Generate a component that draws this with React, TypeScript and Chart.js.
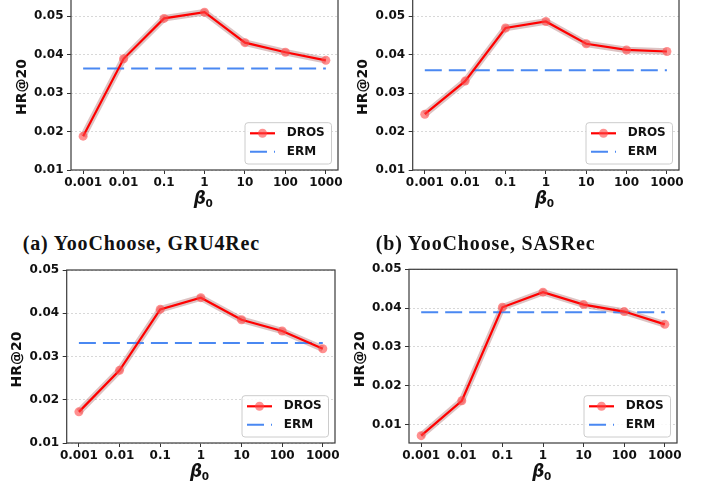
import React, { useEffect, useRef } from "react";
import { Chart, registerables } from "chart.js";
Chart.register(...registerables);

// ---------- data ----------
const xLabels = ["0.001", "0.01", "0.1", "1", "10", "100", "1000"];
const yTicks = [0.01, 0.02, 0.03, 0.04, 0.05];
const seriesNames = ["DROS", "ERM"];
const yTitle = "HR@20";

const drosA = [0.0188, 0.0389, 0.0494, 0.051, 0.0431, 0.0406, 0.0385];
const ermA = 0.0364;
const drosB = [0.0245, 0.0331, 0.0469, 0.0486, 0.0428, 0.0412, 0.0408];
const ermB = 0.0359;
const drosC = [0.0172, 0.0268, 0.0409, 0.0436, 0.0385, 0.0359, 0.0318];
const ermC = 0.0331;
const drosD = [0.0071, 0.0161, 0.0402, 0.0441, 0.0409, 0.0391, 0.0358];
const ermD = 0.0389;

const captions = ["(a) YooChoose, GRU4Rec", "(b) YooChoose, SASRec"];

// ---------- layout ----------
type Panel = {
  dros: number[];
  erm: number;
  yMin: number;
  yMax: number;
  l: number;
  r: number;
  t: number;
  b: number;
};

const panels: Panel[] = [
  { dros: drosA, erm: ermA, yMin: 0.01, yMax: 0.0547, l: 71, r: 338, t: -2, b: 170 },
  { dros: drosB, erm: ermB, yMin: 0.01, yMax: 0.0547, l: 412.7, r: 679, t: -2, b: 170 },
  { dros: drosC, erm: ermC, yMin: 0.01, yMax: 0.05, l: 66.7, r: 335, t: 270, b: 443.3 },
  { dros: drosD, erm: ermD, yMin: 0.0052, yMax: 0.05, l: 409, r: 676.7, t: 269.3, b: 442.7 },
];

const RED = "#ff0000";
const MARKER = "rgba(255,70,70,0.6)";
const BAND = "rgba(170,105,105,0.4)";
const BLUE = "#4a88f2";
const DASH = [17, 7];
const TICK_FONT = { family: "DejaVu Sans", weight: "bold" as const, size: 12 };

function PanelChart({ p }: { p: Panel }) {
  const ref = useRef<HTMLCanvasElement | null>(null);
  const cx = Math.round(p.l - 70);
  const cy = Math.round(p.t - 14);
  const yW = p.l - cx;
  const padTop = p.t - cy;
  const padRight = 28;
  const xH = 44;
  const cw = Math.round(yW + (p.r - p.l) + padRight);
  const ch = Math.round(padTop + (p.b - p.t) + xH);

  useEffect(() => {
    if (!ref.current) return;
    const decor = {
      id: "decor",
      afterDraw(chart: any) {
        const { ctx } = chart;
        const { left, right, top, bottom } = chart.chartArea;
        ctx.save();
        // frame
        ctx.strokeStyle = "#3a3a3a";
        ctx.lineWidth = 1.2;
        ctx.setLineDash([]);
        ctx.strokeRect(left, top, right - left, bottom - top);
        ctx.restore();

        // y title
        ctx.save();
        ctx.translate(left - 49, (top + bottom) / 2 + 3);
        ctx.rotate(-Math.PI / 2);
        ctx.font = "bold 14px 'DejaVu Sans'";
        ctx.fillStyle = "#111";
        ctx.textAlign = "center";
        ctx.textBaseline = "middle";
        ctx.fillText(yTitle, 0, 0);
        ctx.restore();

        // x title beta_0
        ctx.save();
        ctx.fillStyle = "#111";
        ctx.textBaseline = "alphabetic";
        ctx.textAlign = "left";
        const bFont = "italic bold 17px 'DejaVu Sans'";
        const sFont = "bold 10.5px 'DejaVu Sans'";
        ctx.font = bFont;
        const wb = ctx.measureText("β").width;
        ctx.font = sFont;
        const ws = ctx.measureText("0").width;
        const x0 = (left + right) / 2 - 1 - (wb + ws) / 2;
        ctx.font = bFont;
        ctx.fillText("β", x0, bottom + 34);
        ctx.font = sFont;
        ctx.fillText("0", x0 + wb - 0.5, bottom + 36.5);
        ctx.restore();

        // legend
        ctx.save();
        const bl = right - 93;
        const bt = bottom - 47.3;
        const bw = 86.5;
        const bh = 41.3;
        ctx.beginPath();
        (ctx as any).roundRect(bl, bt, bw, bh, 3);
        ctx.fillStyle = "rgba(255,255,255,0.85)";
        ctx.fill();
        ctx.strokeStyle = "#cccccc";
        ctx.lineWidth = 1;
        ctx.stroke();
        const r1 = bottom - 36.7;
        const r2 = bottom - 18.3;
        ctx.beginPath();
        ctx.moveTo(bl + 5, r1);
        ctx.lineTo(bl + 30, r1);
        ctx.strokeStyle = RED;
        ctx.lineWidth = 2.2;
        ctx.stroke();
        ctx.beginPath();
        ctx.arc(bl + 17.5, r1, 4.5, 0, Math.PI * 2);
        ctx.fillStyle = MARKER;
        ctx.fill();
        ctx.beginPath();
        ctx.setLineDash(DASH);
        ctx.moveTo(bl + 5, r2);
        ctx.lineTo(bl + 30, r2);
        ctx.strokeStyle = BLUE;
        ctx.lineWidth = 2;
        ctx.stroke();
        ctx.setLineDash([]);
        ctx.font = "bold 12px 'DejaVu Sans'";
        ctx.fillStyle = "#111";
        ctx.textBaseline = "middle";
        ctx.textAlign = "left";
        ctx.fillText(seriesNames[0], bl + 41.7, r1);
        ctx.fillText(seriesNames[1], bl + 41.7, r2);
        ctx.restore();
      },
    };

    const xs = xLabels.map((_, i) => i);
    const chart = new Chart(ref.current, {
      type: "line",
      data: {
        datasets: [
          {
            label: seriesNames[0],
            data: xs.map((x, i) => ({ x, y: p.dros[i] })),
            borderColor: RED,
            borderWidth: 2.2,
            pointRadius: 4.5,
            pointBackgroundColor: MARKER,
            pointBorderWidth: 0,
            tension: 0,
          },
          {
            label: seriesNames[1],
            data: [
              { x: xs[0], y: p.erm },
              { x: xs[xs.length - 1], y: p.erm },
            ],
            borderColor: BLUE,
            borderWidth: 2,
            borderDash: DASH,
            pointRadius: 0,
          },
          {
            label: "band",
            data: xs.map((x, i) => ({ x, y: p.dros[i] })),
            borderColor: BAND,
            borderWidth: 6.5,
            pointRadius: 0,
            tension: 0,
          },
        ],
      },
      options: {
        animation: false,
        responsive: false,
        maintainAspectRatio: false,
        devicePixelRatio: 1,
        layout: { padding: { left: 0, top: padTop, right: padRight, bottom: 0 } },
        plugins: { legend: { display: false }, tooltip: { enabled: false } },
        scales: {
          x: {
            type: "linear",
            min: -0.3,
            max: 6.3,
            afterBuildTicks: (a: any) => {
              a.ticks = xs.map((v) => ({ value: v }));
            },
            afterFit: (s: any) => {
              s.height = xH;
            },
            ticks: {
              callback: (_v: any, i: number) => xLabels[i],
              font: TICK_FONT,
              color: "#111",
              padding: 2,
              maxRotation: 0,
              autoSkip: false,
            },
            grid: {
              drawOnChartArea: false,
              drawTicks: true,
              tickLength: 4,
              tickColor: "#333",
              tickWidth: 1,
            },
            border: { display: false },
          },
          y: {
            type: "linear",
            min: p.yMin,
            max: p.yMax,
            afterBuildTicks: (a: any) => {
              a.ticks = yTicks.map((v) => ({ value: v }));
            },
            afterFit: (s: any) => {
              s.width = yW;
            },
            ticks: {
              callback: (v: any) => Number(v).toFixed(2),
              font: TICK_FONT,
              color: "#111",
              padding: 3.5,
            },
            grid: {
              color: "#cfcfcf",
              lineWidth: 0.8,
              drawTicks: true,
              tickLength: 4,
              tickColor: "#333",
              tickWidth: 1,
              tickBorderDash: [],
            },
            border: { display: false, dash: [2, 2] },
          },
        },
      },
      plugins: [decor],
    } as any);
    return () => chart.destroy();
  }, []);

  return (
    <canvas
      ref={ref}
      width={cw}
      height={ch}
      style={{ position: "absolute", left: cx, top: cy, width: cw, height: ch }}
    />
  );
}

const captionStyle: React.CSSProperties = {
  position: "absolute",
  top: 233,
  fontFamily: "'Liberation Serif', serif",
  fontWeight: "bold",
  fontSize: 20,
  lineHeight: "20px",
  letterSpacing: "0.85px",
  color: "#111",
  whiteSpace: "nowrap",
};

export default function App() {
  return (
    <div
      style={{
        position: "absolute",
        left: 0,
        top: 0,
        width: 709,
        height: 491,
        overflow: "hidden",
        background: "#fff",
      }}
    >
      {panels.map((p, i) => (
        <PanelChart key={i} p={p} />
      ))}
      <div style={{ ...captionStyle, left: 22.7 }}>{captions[0]}</div>
      <div style={{ ...captionStyle, left: 375.7 }}>{captions[1]}</div>
    </div>
  );
}
